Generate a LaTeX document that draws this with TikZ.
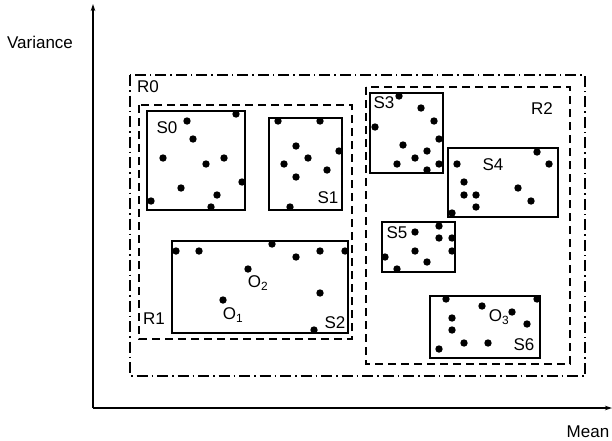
\documentclass[tikz,border=0pt]{standalone}
\usepackage{fontspec}
\setmainfont{Liberation Sans}
\usetikzlibrary{arrows.meta}
\begin{document}
\begin{tikzpicture}[x=1pt,y=-1pt,
  lbl/.style={inner sep=0pt,font=\fontsize{17}{20}\selectfont},
  setbox/.style={draw=black,line width=2pt},
  regbox/.style={draw=black,line width=1.5pt,dash pattern=on 8pt off 5pt},
  outbox/.style={draw=black,line width=1.5pt,dash pattern=on 11pt off 4pt on 1.5pt off 4pt},
  axis/.style={draw=black,line width=1.4pt,-{Stealth[length=7pt,width=4.5pt]}},
  pt/.style={fill=black}]
\useasboundingbox (0,0) rectangle (612,440);
% axes
\coordinate (origin) at (93,408);
\coordinate (ytip) at (93,4);
\coordinate (xtip) at (612,408);
\draw[axis] (origin) -- (ytip);
\draw[axis] (origin) -- (xtip);
\node[lbl] (yl) at (40,42) {Variance};
\node[lbl] (xl) at (588,432) {Mean};
% regions
\draw[outbox] (130,75) rectangle (585,376);
\draw[regbox] (139,105) rectangle (352,339);
\draw[regbox] (366,87) rectangle (570,364);
\node[lbl] (r0) at (148,87) {R0};
\node[lbl] (r1) at (154,319) {R1};
\node[lbl] (r2) at (542,109) {R2};
% sets
\draw[setbox] (147,111) rectangle (245,210);
\draw[setbox] (269,118) rectangle (342,210);
\draw[setbox] (172,241) rectangle (348,333);
\draw[setbox] (370,93) rectangle (443,173);
\draw[setbox] (448,148) rectangle (558,217);
\draw[setbox] (382,222) rectangle (455,272);
\draw[setbox] (430,296) rectangle (540,358);
\node[lbl] (s0) at (167,128) {S0};
\node[lbl] (s1) at (328,198) {S1};
\node[lbl] (s2) at (335,323) {S2};
\node[lbl] (s3) at (384,103) {S3};
\node[lbl] (s4) at (493,165) {S4};
\node[lbl] (s5) at (397,233) {S5};
\node[lbl] (s6) at (524,345) {S6};
\node[lbl] (o1) at (233,315) {O\textsubscript{1}};
\node[lbl] (o2) at (258,283) {O\textsubscript{2}};
\node[lbl] (o3) at (499,317) {O\textsubscript{3}};
% points
\foreach \p in {(236,114),(187,121),(193,139),(163,158),(206,164),(224,158),(242,182),(181,188),(217,195),(151,201),(211,207),
  (278,121),(320,121),(296,146),(339,151),(308,158),(284,164),(327,170),(296,177),(290,207),
  (176,251),(199,251),(272,244),(296,257),(320,251),(345,251),(248,269),(320,293),(223,300),(314,330),
  (399,96),(421,108),(434,121),(375,127),(439,139),(403,145),(427,151),(415,158),(397,164),(439,164),(427,170),
  (537,152),(549,164),(457,164),(464,182),(464,195),(476,195),(518,188),(531,201),(476,207),(452,213),
  (415,232),(439,226),(439,238),(452,238),(415,251),(452,251),(385,257),(427,262),(397,269),
  (446,299),(537,299),(482,306),(512,312),(452,318),(527,324),(452,330),(464,343),(488,343),(439,349)}
  \fill[pt] \p circle (3.7);
\end{tikzpicture}
\end{document}
